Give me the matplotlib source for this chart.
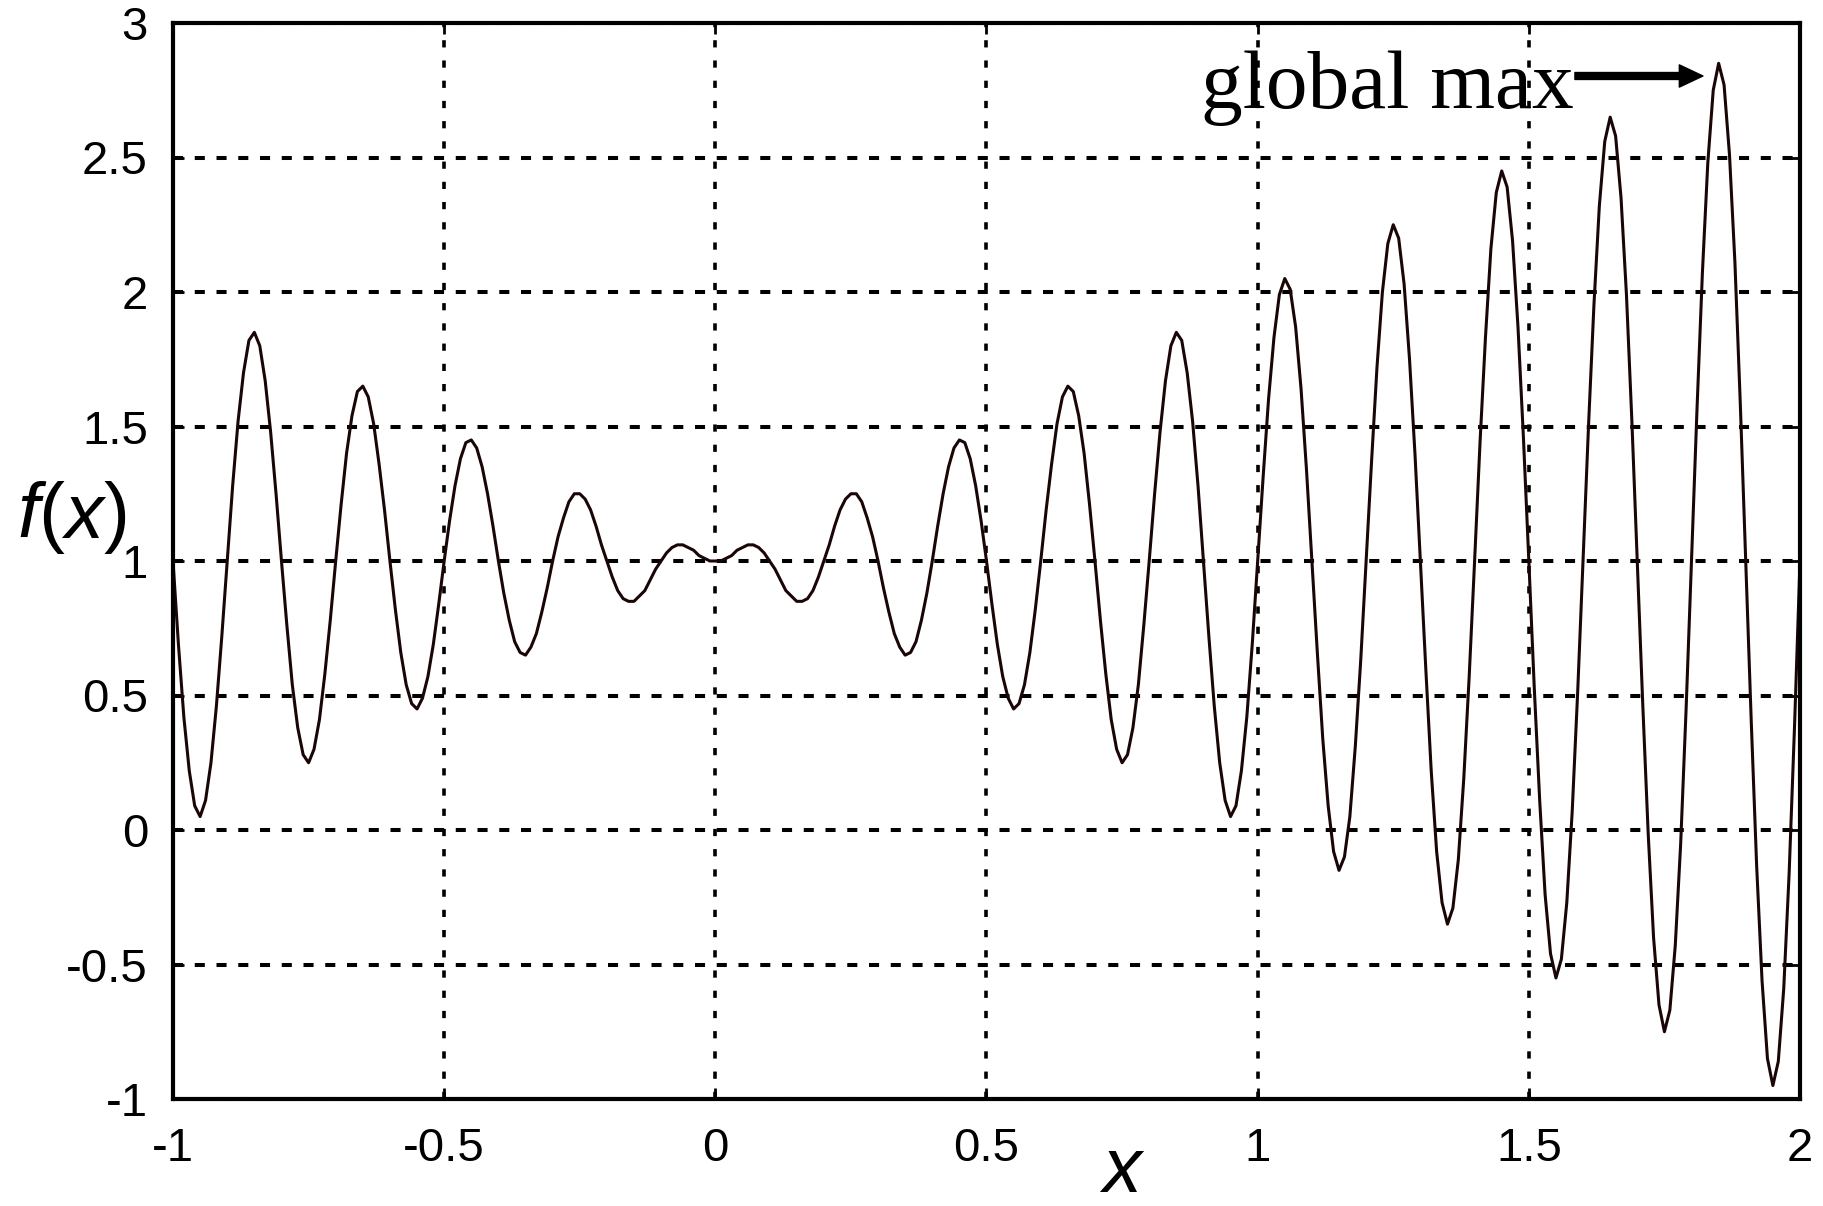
import numpy as np
import matplotlib
matplotlib.use("Agg")
import matplotlib.pyplot as plt

x_start, x_end = -1.0, 2.0
f_values = [
    1.00, 0.69, 0.42, 0.22, 0.09, 0.05, 0.11, 0.25, 0.46, 0.72, 1.00, 1.28, 1.52, 1.70, 1.82, 1.85, 1.80, 1.67, 1.48, 1.25,
    1.00, 0.76, 0.54, 0.38, 0.28, 0.25, 0.30, 0.41, 0.58, 0.78, 1.00, 1.21, 1.40, 1.54, 1.63, 1.65, 1.61, 1.51, 1.36, 1.19,
    1.00, 0.82, 0.66, 0.54, 0.47, 0.45, 0.49, 0.57, 0.69, 0.84, 1.00, 1.15, 1.28, 1.38, 1.44, 1.45, 1.42, 1.35, 1.25, 1.13,
    1.00, 0.88, 0.78, 0.70, 0.66, 0.65, 0.68, 0.73, 0.81, 0.90, 1.00, 1.09, 1.16, 1.22, 1.25, 1.25, 1.23, 1.19, 1.13, 1.06,
    1.00, 0.94, 0.89, 0.86, 0.85, 0.85, 0.87, 0.89, 0.93, 0.97, 1.00, 1.03, 1.05, 1.06, 1.06, 1.05, 1.04, 1.02, 1.01, 1.00,
    1.00,
    1.00, 1.01, 1.02, 1.04, 1.05, 1.06, 1.06, 1.05, 1.03, 1.00, 0.97, 0.93, 0.89, 0.87, 0.85, 0.85, 0.86, 0.89, 0.94, 1.00,
    1.06, 1.13, 1.19, 1.23, 1.25, 1.25, 1.22, 1.16, 1.09, 1.00, 0.90, 0.81, 0.73, 0.68, 0.65, 0.66, 0.70, 0.78, 0.88, 1.00,
    1.13, 1.25, 1.35, 1.42, 1.45, 1.44, 1.38, 1.28, 1.15, 1.00, 0.84, 0.69, 0.57, 0.49, 0.45, 0.47, 0.54, 0.66, 0.82, 1.00,
    1.19, 1.36, 1.51, 1.61, 1.65, 1.63, 1.54, 1.40, 1.21, 1.00, 0.78, 0.58, 0.41, 0.30, 0.25, 0.28, 0.38, 0.54, 0.76, 1.00,
    1.25, 1.48, 1.67, 1.80, 1.85, 1.82, 1.70, 1.52, 1.28, 1.00, 0.72, 0.46, 0.25, 0.11, 0.05, 0.09, 0.22, 0.42, 0.69, 1.00,
    1.31, 1.60, 1.83, 1.99, 2.05, 2.01, 1.87, 1.64, 1.34, 1.00, 0.66, 0.34, 0.09, -0.08, -0.15, -0.10, 0.05, 0.31, 0.63, 1.00,
    1.37, 1.72, 2.00, 2.18, 2.25, 2.20, 2.03, 1.75, 1.40, 1.00, 0.60, 0.22, -0.08, -0.27, -0.35, -0.29, -0.11, 0.19, 0.57, 1.00,
    1.44, 1.83, 2.16, 2.37, 2.45, 2.39, 2.19, 1.87, 1.46, 1.00, 0.53, 0.11, -0.24, -0.46, -0.55, -0.48, -0.27, 0.07, 0.51, 1.00,
    1.50, 1.95, 2.32, 2.56, 2.65, 2.58, 2.35, 1.99, 1.52, 1.00, 0.47, -0.01, -0.40, -0.65, -0.75, -0.67, -0.43, -0.05, 0.45, 1.00,
    1.56, 2.07, 2.48, 2.75, 2.85, 2.77, 2.51, 2.11, 1.58, 1.00, 0.41, -0.13, -0.56, -0.85, -0.95, -0.86, -0.59, -0.16, 0.39, 1.00,
]
x_vals = np.linspace(x_start, x_end, len(f_values))

x_ticks = [-1, -0.5, 0, 0.5, 1, 1.5, 2]
x_ticklabels = ["-1", "-0.5", "0", "0.5", "1", "1.5", "2"]
y_ticks = [-1, -0.5, 0, 0.5, 1, 1.5, 2, 2.5, 3]
y_ticklabels = ["-1", "-0.5", "0", "0.5", "1", "1.5", "2", "2.5", "3"]

plt.rcParams['font.family'] = ['Liberation Sans', 'DejaVu Sans']
plt.rcParams['mathtext.fontset'] = 'custom'
plt.rcParams['mathtext.it'] = 'Liberation Sans:italic'
plt.rcParams['mathtext.rm'] = 'Liberation Sans'

W, H = 1823, 1206
fig = plt.figure(figsize=(W / 100, H / 100), dpi=100)
ax = fig.add_axes([173 / W, 1 - 1099 / H, (1800 - 173) / W, (1099 - 23) / H])

ax.plot(x_vals, f_values, color="#1a0606", linewidth=2.2, zorder=3)

ax.set_xlim(-1, 2)
ax.set_ylim(-1, 3)
ax.set_xticks(x_ticks)
ax.set_xticklabels(x_ticklabels)
ax.set_yticks(y_ticks)
ax.set_yticklabels(y_ticklabels)
ax.tick_params(axis='both', direction='in', length=8, width=2, labelsize=34,
               top=True, right=True)
ax.tick_params(axis='x', pad=20)
ax.tick_params(axis='y', pad=18)

# dotted grid, horizontal dashes a bit longer than vertical ones
ax.yaxis.grid(True, color="black", linestyle=(0, (2.5, 2.9)), linewidth=2.9)
ax.xaxis.grid(True, color="black", linestyle=(0, (2.0, 3.6)), linewidth=2.6)
for s in ax.spines.values():
    s.set_linewidth(3)
    s.set_zorder(4)

fig.text(72 / W, 1 - 517 / H, r"$f(x)$", fontsize=56, ha="center", va="center")
fig.text(1122 / W, 1 - 1172 / H, r"$x$", fontsize=56, ha="center", va="center")

ax.text(0.895, 2.685, "global max", fontsize=60, family="Liberation Serif",
        ha="left", va="baseline", zorder=5)
ax.annotate("", xy=(1.821, 2.803), xytext=(1.585, 2.803),
            arrowprops=dict(width=5, headwidth=16, headlength=17,
                            facecolor="black", edgecolor="black", shrink=0),
            zorder=5)

fig.savefig("out.png", dpi=100)
